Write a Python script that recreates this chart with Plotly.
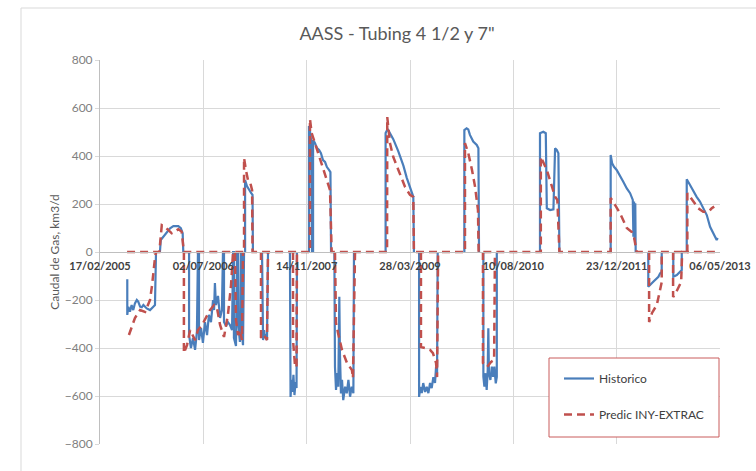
import pandas as pd
import plotly.graph_objects as go

START = "2005-02-17"
END = "2013-05-06"
TITLE = 'AASS - Tubing 4 1/2 y 7"'
Y_TITLE = "Caudal de Gas, km3/d"
SERIES = ["Historico", "Predic INY-EXTRAC"]

# Historico: days since 17/02/2005 and values (km3/d); None separates segments
hist_days = [132, 132, 137, 145, 153, 161, 169, 178, 185, 194, 202, 210, 226, 242, 258, 266, 271, 290, 294, 306,
             323, 339, 355, 379, 391, 400, 403, None,
             431, 431, 440, 450, 460, 469, 474, 479, 479, 489, 498, 508, 518, 527, 537, 547, 552, 556, 561, 571,
             581, 590, 595, 600, 600, 610, 619, 629, 639, 644, 648, 648, 658, 663, 668, 668, 677, 682, 687, 687,
             692, 697, None,
             702, 702, 711, 721, 731, 738, 740, None,
             784, 789, 794, 798, 803, 808, 813, None,
             919, 922, 927, 931, 936, 941, 946, 951, 953, None,
             1011, 1011, 1016, 1021, 1026, 1031, 1031, 1040, 1050, 1060, 1069, 1079, 1089, 1098, 1108, 1115, 1118, None,
             1134, 1134, 1137, 1142, 1148, 1153, 1158, 1161, 1166, 1171, 1177, 1186, 1194, 1202, 1210, 1218, 1226, 1229, None,
             1382, 1382, 1392, 1403, 1419, 1443, 1468, 1484, 1500, 1516, 1519, None,
             1544, 1544, 1550, 1557, 1564, 1573, 1581, 1589, 1597, 1605, 1613, 1621, 1626, 1631, 1634, None,
             1763, 1763, 1774, 1782, 1790, 1806, 1823, 1831, 1834, None,
             1855, 1855, 1860, 1866, 1871, 1876, 1879, 1882, 1889, 1896, 1902, 1908, 1915, 1920, 1920, None,
             2129, 2129, 2145, 2157, 2162, 2178, 2194, 2202, 2210, 2218, 2223, None,
             2471, 2471, 2478, 2487, 2500, 2516, 2532, 2549, 2565, 2578, 2581, 2584, 2587, 2590, 2592, None,
             2653, 2653, 2677, 2702, 2710, 2718, 2718, None,
             2774, 2774, 2791, 2807, 2815, 2815, None,
             2839, 2839, 2855, 2871, 2887, 2903, 2919, 2936, 2952, 2968, 2984, 2989]
hist_vals = [-114, -262, -228, -249, -221, -242, -214, -200, -207, -228, -230, -221, -235, -242, -228, -221, 0, 0, 50, 64,
             85, 99, 108, 108, 99, 78, 0, None,
             0, -346, -400, -358, -408, -333, 0, 0, -367, -317, -379, -292, -346, -262, -292, -200, -242, -129, -221, -183,
             -275, -242, 0, 0, -292, -308, -292, -304, -325, 0, 0, -358, -392, 0, 0, -292, -375, 0, 0, -346,
             -388, 0, None,
             0, 300, 275, 258, 246, 238, 0, None,
             0, -367, -325, -358, -342, -367, 0, None,
             0, -604, -533, -583, -512, -596, -542, -567, 0, None,
             0, 525, 504, 467, 0, 0, 467, 454, 433, 425, 412, 383, 375, 354, 342, 333, 0, None,
             0, -422, -478, -575, -505, -561, -186, -422, -589, -533, -617, -561, -589, -533, -603, -561, -589, 0, None,
             0, 496, 512, 496, 470, 420, 360, 310, 265, 230, 0, None,
             0, -604, -562, -588, -546, -583, -562, -588, -546, -567, -521, -546, -479, -504, 0, None,
             0, 508, 515, 511, 488, 460, 446, 432, 0, None,
             0, -520, -561, -505, -575, -492, -318, -505, -533, -478, -520, -478, -547, -520, 0, None,
             0, 495, 501, 495, 182, 175, 178, 432, 425, 411, 0, None,
             0, 404, 370, 355, 342, 314, 293, 265, 245, 217, 64, 210, 50, 203, 0, None,
             0, -145, -124, -103, -89, -83, 0, None,
             0, -103, -96, -82, -75, 0, None,
             0, 303, 279, 251, 230, 210, 182, 154, 105, 78, 50, 58]

# Prediction, injection curve (0 when not injecting)
pred_inj_days = [131, 287, 299, 315, 330, 347, 363, 379, 395, 406,
                 697, 697, 706, 716, 726, 736, 738,
                 1016, 1016, 1024, 1040, 1056, 1073, 1089, 1105, 1113, 1121,
                 1389, 1390, 1403, 1419, 1443, 1476, 1500, 1516, 1519,
                 1766, 1766, 1782, 1800, 1815, 1829, 1832,
                 2133, 2133, 2162, 2186, 2202, 2213, 2223,
                 2471, 2471, 2492, 2516, 2549, 2573, 2584, 2597,
                 2842, 2842, 2855, 2871, 2895, 2919, 2944, 2960, 2972]
pred_inj_vals = [0, 0, 112, 105, 92, 78, 85, 95, 85, 0,
                 0, 392, 342, 300, 292, 258, 0,
                 0, 554, 496, 454, 412, 371, 329, 279, 258, 0,
                 0, 562, 454, 396, 342, 271, 238, 229, 0,
                 0, 454, 412, 342, 271, 175, 0,
                 0, 397, 342, 279, 230, 217, 0,
                 0, 225, 196, 162, 100, 83, 62, 0,
                 0, 245, 230, 210, 182, 168, 168, 182, 189]

# Prediction, extraction episodes
pred_ext_days = [140, 169, 194, 218, 242, 252, 266, 271, None,
                 406, 406, 421, 436, 460, 474, 494, 513, 532, 552, 566, 581, 600, 619, 634, 644, 653, 658, 668, 677,
                 687, 692, None,
                 779, 779, 794, 808, 813, None,
                 934, 934, 944, 951, 953, None,
                 1137, 1142, 1152, 1171, 1195, 1219, 1224, 1234, None,
                 1553, 1553, 1573, 1597, 1611, 1626, 1631, 1636, None,
                 1853, 1853, 1873, 1892, 1907, 1911, None,
                 2657, 2657, 2671, 2694, 2713, 2718, 2718, None,
                 2773, 2773, 2788, 2802, 2812, 2817, 2989]
pred_ext_vals = [-346, -275, -242, -250, -200, -138, -25, 0, None,
                 0, -421, -388, -325, -367, -325, -304, -275, -242, -221, -233, -304, -354, -262, -138, 0, 0, -283, -346, -325,
                 -367, 0, None,
                 0, -358, -346, -367, 0, None,
                 0, -367, -479, -479, 0, None,
                 0, -296, -338, -408, -462, -492, -525, 0, None,
                 0, -396, -400, -408, -421, -462, -521, 0, None,
                 0, -462, -479, -458, -450, 0, None,
                 0, -292, -254, -221, -146, -125, 0, None,
                 0, -188, -167, -146, -125, 0, 0]

Y_TICKS = [-800, -600, -400, -200, 0, 200, 400, 600, 800]

start_ts = pd.Timestamp(START)


def to_dates(days):
    return [None if d is None else (start_ts + pd.Timedelta(days=d)).strftime("%Y-%m-%d") for d in days]


pred_days = pred_inj_days + [None] + pred_ext_days
pred_vals = pred_inj_vals + [None] + pred_ext_vals

BLUE = "#4a7ebb"
RED = "#c0504d"

fig = go.Figure()
fig.add_trace(go.Scatter(x=to_dates(hist_days), y=hist_vals, mode="lines", name=SERIES[0],
                         line=dict(color=BLUE, width=2.2), connectgaps=False, legendgroup="a"))
fig.add_trace(go.Scatter(x=to_dates(pred_days), y=pred_vals, mode="lines", name=SERIES[1],
                         line=dict(color=RED, width=2.5, dash="8px,5px"), connectgaps=False, legendgroup="b"))


# plot area: x 100..720 px, y 60..444 px
def px_x(p):
    return (p - 100) / 620


def px_y(p):
    return (444 - p) / 384


fig.update_layout(
    width=756, height=471,
    margin=dict(l=100, r=36, t=60, b=27, autoexpand=False),
    paper_bgcolor="white", plot_bgcolor="white",
    font=dict(family="Lato", size=11, color="#595959"),
    title=dict(text=TITLE, x=397 / 756, xref="container", xanchor="center",
               y=1 - 34 / 471, yref="container", yanchor="middle",
               font=dict(family="Lato", size=18, color="#595959")),
    xaxis=dict(type="date", range=[START, END], tick0=START, dtick=500 * 86400000,
               tickformat="%d/%m/%Y", anchor="free", position=0.5,
               showgrid=True, gridcolor="#d9d9d9", gridwidth=1,
               showline=True, linecolor="#bfbfbf", linewidth=1, ticks="", ticklabelstandoff=4,
               tickfont=dict(family="Lato", size=11, color="#404040", weight="bold")),
    yaxis=dict(range=[-800, 800], tickvals=Y_TICKS, showgrid=True, gridcolor="#d9d9d9",
               zeroline=False, showline=True, linecolor="#bfbfbf", linewidth=1,
               ticks="outside", ticklen=4, tickcolor="#d9d9d9",
               tickfont=dict(family="Lato", size=12, color="#808080"),
               title=dict(text=Y_TITLE, standoff=2, font=dict(family="Lato", size=12, color="#595959"))),
    showlegend=True,
    legend=dict(x=px_x(559), y=px_y(364), xanchor="left", yanchor="top",
                bgcolor="rgba(0,0,0,0)", borderwidth=0, traceorder="grouped", tracegroupgap=17,
                font=dict(family="Lato", size=12, color="#404040")),
    shapes=[
        dict(type="rect", xref="paper", yref="paper", x0=px_x(549), x1=px_x(719), y0=px_y(437), y1=px_y(358),
             line=dict(color="#c95c5c", width=1), fillcolor="white", layer="above"),
        dict(type="line", xref="paper", yref="paper", x0=px_x(21), x1=px_x(21), y0=px_y(471), y1=px_y(8),
             line=dict(color="#d9d9d9", width=1)),
        dict(type="line", xref="paper", yref="paper", x0=px_x(21), x1=px_x(756), y0=px_y(8), y1=px_y(8),
             line=dict(color="#d9d9d9", width=1)),
    ],
)

fig.write_html("out.html", config={"displayModeBar": False},
               post_script="document.body.style.margin='0';document.body.style.padding='0';")
